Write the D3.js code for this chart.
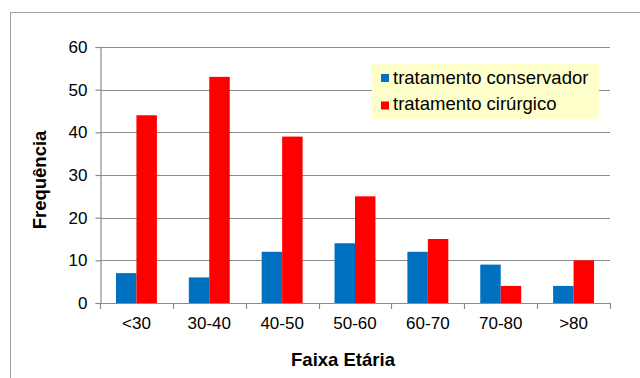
<!DOCTYPE html>
<html>
<head>
<meta charset="utf-8">
<script src="https://cdn.jsdelivr.net/npm/d3@7"></script>
<style>
  html, body { margin: 0; padding: 0; background: #fff; }
  svg { display: block; font-family: "Liberation Sans", Arial, sans-serif; }
</style>
</head>
<body>
<svg id="chart" width="640" height="378"></svg>
<script>
// Age groups and counts per treatment type
const categories = ["<30", "30-40", "40-50", "50-60", "60-70", "70-80", ">80"];
const conservador = [7, 6, 12, 14, 12, 9, 4];
const cirurgico = [44, 53, 39, 25, 15, 4, 10];
const seriesNames = ["tratamento conservador", "tratamento cirúrgico"];
const seriesColors = ["#0070C0", "#FF0000"];
const yTicks = [0, 10, 20, 30, 40, 50, 60];

const svg = d3.select("#chart");
const FONT = "'Liberation Sans', Arial, sans-serif";

// Outer chart frame
svg.append("rect")
  .attr("x", 10.5).attr("y", 12.5)
  .attr("width", 640).attr("height", 400)
  .attr("fill", "none").attr("stroke", "#a0a0a0").attr("stroke-width", 1);

const x = d3.scaleBand().domain(categories).range([100, 610]).padding(0);
const y = d3.scaleLinear().domain([0, 60]).range([303, 47]);
const inner = d3.scaleBand().domain([0, 1]).range([0, x.bandwidth()]).paddingInner(0).paddingOuter(0.78);

// Gridlines
svg.append("g").selectAll("line").data(yTicks.filter(d => d > 0)).join("line")
  .attr("x1", 100).attr("x2", 610)
  .attr("y1", d => Math.round(y(d)) + 0.5).attr("y2", d => Math.round(y(d)) + 0.5)
  .attr("stroke", "#8c8c8c").attr("stroke-width", 1.2);

// Bars
const data = categories.map((c, i) => ({ c, vals: [conservador[i], cirurgico[i]] }));
const groups = svg.append("g").selectAll("g").data(data).join("g")
  .attr("transform", d => `translate(${x(d.c)},0)`);
groups.selectAll("rect").data(d => d.vals.map((v, k) => ({ v, k }))).join("rect")
  .attr("x", d => inner(d.k))
  .attr("width", inner.bandwidth())
  .attr("y", d => y(d.v))
  .attr("height", d => y(0) - y(d.v))
  .attr("fill", d => seriesColors[d.k]);

// Y axis
const yAxis = svg.append("g").attr("transform", "translate(100.5,0)")
  .call(d3.axisLeft(y).tickValues(yTicks).tickSize(5).tickPadding(8));
yAxis.selectAll("text").attr("font-size", 17).attr("fill", "#000").attr("font-family", FONT);
yAxis.selectAll("line, path").attr("stroke", "#8c8c8c").attr("stroke-width", 1.2);

// X axis
const xAxis = svg.append("g").attr("transform", "translate(0,303.5)")
  .call(d3.axisBottom(x).tickSize(0).tickPadding(14));
xAxis.select("path").attr("stroke", "#8c8c8c").attr("stroke-width", 1.2)
  .attr("d", "M100,0H610");
xAxis.selectAll("text").attr("font-size", 17).attr("fill", "#000")
  .attr("font-family", FONT).attr("y", 25.5).attr("dy", null);
// Category boundary ticks
svg.append("g").selectAll("line").data(categories.concat(["end"])).join("line")
  .attr("x1", (d, i) => Math.round(100 + i * x.bandwidth()) + 0.5)
  .attr("x2", (d, i) => Math.round(100 + i * x.bandwidth()) + 0.5)
  .attr("y1", 303).attr("y2", 309)
  .attr("stroke", "#8c8c8c").attr("stroke-width", 1.2);

// Axis titles
svg.append("text").attr("x", 343).attr("y", 366)
  .attr("text-anchor", "middle").attr("font-size", 18.5).attr("font-weight", "bold")
  .text("Faixa Etária");
svg.append("text").attr("transform", "translate(46,180) rotate(-90)")
  .attr("text-anchor", "middle").attr("font-size", 18.5).attr("font-weight", "bold")
  .text("Frequência");

// Legend
const lg = svg.append("g").attr("transform", "translate(372,64)");
lg.append("rect").attr("width", 227).attr("height", 55).attr("fill", "#FFFFCC");
seriesNames.forEach((n, i) => {
  lg.append("rect").attr("x", 9).attr("y", 10 + i * 27.5).attr("width", 8).attr("height", 8)
    .attr("fill", seriesColors[i]);
  lg.append("text").attr("x", 21).attr("y", 20 + i * 26).attr("font-size", 18.5)
    .attr("fill", "#000").text(n);
});
</script>
</body>
</html>
